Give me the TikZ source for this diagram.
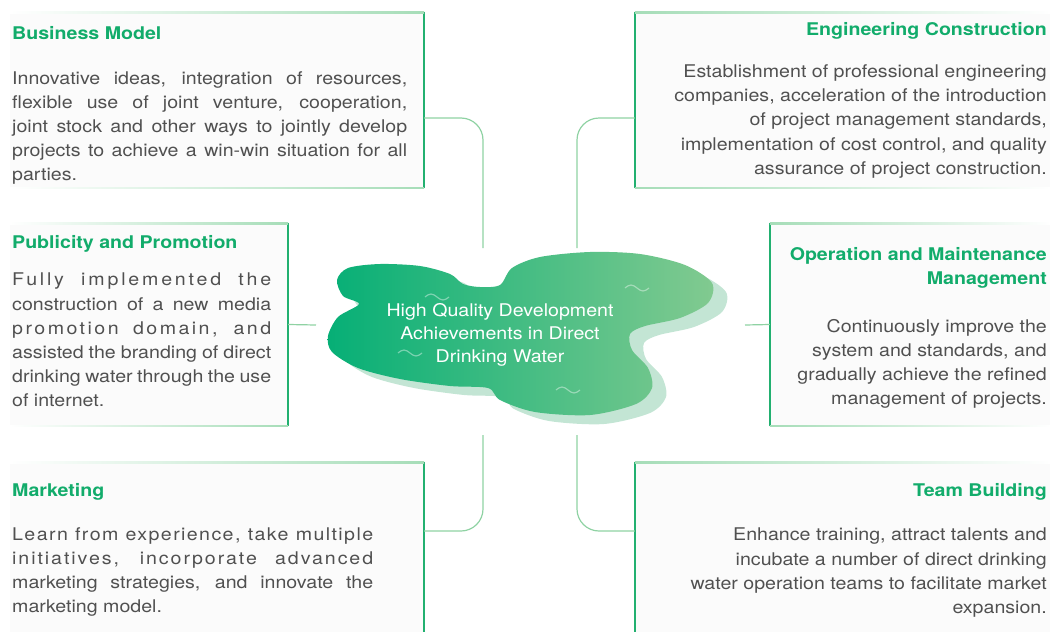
\documentclass[tikz,border=0pt]{standalone}
\usepackage{fontspec}
\setmainfont{TeX Gyre Heros}[FakeStretch=1.12]

\definecolor{rimgreen}{HTML}{22B070}
\definecolor{rimlight}{HTML}{A6DDB8}
\definecolor{linkgreen}{HTML}{8FD2A3}
\definecolor{headgreen}{HTML}{12AC6B}
\definecolor{bodygray}{HTML}{505050}
\definecolor{cardfill}{HTML}{FBFBFB}
\definecolor{hubleft}{HTML}{06AF76}
\definecolor{hubright}{HTML}{82CA90}
\definecolor{hubshadow}{HTML}{C3E5D4}

% letter-spaced run inside a justified line
\newcommand{\spaced}[2]{{\addfontfeature{LetterSpace=#1}#2}}
% outline of the central cloud
\newcommand{\cloud}{plot[smooth cycle] coordinates {(337,280) (348,268) (380,264) (420,266) (450,274) (463,284) (480,287) (500,285) (512,268) (540,257) (590,252) (640,254) (685,265) (712,283) (708,303) (680,318) (645,326) (630,334) (632,350) (648,368) (652,388) (636,404) (590,415) (535,412) (500,400) (488,388) (450,386) (400,379) (358,368) (332,352) (328,336) (338,317) (359,304) (343,296)}}

\begin{document}
\begin{tikzpicture}[x=1pt, y=-1pt]
	\tikzstyle{card}=[fill=cardfill, inner sep=0pt]
	\tikzstyle{rim}=[draw=rimgreen, line width=1.8pt]
	\tikzstyle{head}=[text=headgreen, inner sep=0pt, font=\fontsize{17.5}{24}\selectfont\bfseries]
	\tikzstyle{body}=[text=bodygray, inner sep=0pt, font=\fontsize{17.5}{24.2}\selectfont]
	\tikzstyle{link}=[draw=linkgreen, line width=1.2pt, rounded corners=22pt]
	\tikzstyle{wave}=[draw=white, opacity=.4, line width=1.2pt]
	\tikzstyle{hubtext}=[text=white, align=center, inner sep=0pt, font=\fontsize{17.5}{23}\selectfont]

	\useasboundingbox (0,0) rectangle (1053,632);

	% Cards
	\node at (217, 100) [card, minimum width=414pt, minimum height=176pt] (bm) {};
	\node at (842.5, 100) [card, minimum width=415pt, minimum height=176pt] (ec) {};
	\node at (149, 324.5) [card, minimum width=278pt, minimum height=203pt] (pp) {};
	\node at (910, 324.5) [card, minimum width=280pt, minimum height=203pt] (om) {};
	\node at (217, 547) [card, minimum width=414pt, minimum height=170pt] (mk) {};
	\node at (842.5, 547) [card, minimum width=415pt, minimum height=170pt] (tb) {};

	% Card rims: solid on the hub side, fading lines at top and bottom
	\draw [rim] (bm.north east) -- (bm.south east);
	\draw [rim] (pp.north east) -- (pp.south east);
	\draw [rim] (mk.north east) -- (mk.south east);
	\draw [rim] (ec.north west) -- (ec.south west);
	\draw [rim] (om.north west) -- (om.south west);
	\draw [rim] (tb.north west) -- (tb.south west);
	\shade [left color=white, right color=rimlight] (bm.north west) rectangle ([yshift=-1.2pt]bm.north east);
	\shade [left color=white, right color=rimlight] (bm.south west) rectangle ([yshift=1.2pt]bm.south east);
	\shade [left color=white, right color=rimlight] (pp.north west) rectangle ([yshift=-1.2pt]pp.north east);
	\shade [left color=white, right color=rimlight] (pp.south west) rectangle ([yshift=1.2pt]pp.south east);
	\shade [left color=white, right color=rimlight] (mk.north west) rectangle ([yshift=-1.2pt]mk.north east);
	\shade [left color=rimlight, right color=white] (ec.north west) rectangle ([yshift=-1.2pt]ec.north east);
	\shade [left color=rimlight, right color=white] (ec.south west) rectangle ([yshift=1.2pt]ec.south east);
	\shade [left color=rimlight, right color=white] (om.north west) rectangle ([yshift=-1.2pt]om.north east);
	\shade [left color=rimlight, right color=white] (om.south west) rectangle ([yshift=1.2pt]om.south east);
	\shade [left color=rimlight, right color=white] (tb.north west) rectangle ([yshift=-1.2pt]tb.north east);

	% Hub
	\fill [hubshadow, shift={(14,9)}] \cloud;
	\shade [left color=hubleft, right color=hubright] \cloud;
	\foreach \p in {(637,288), (437,297), (410,353), (568,390)}
		\draw [wave] \p ++(-12,0) sin ++(6,-3) cos ++(6,3) sin ++(6,3) cos ++(6,-3);
	\node at (500, 335) [hubtext] (hub) {High Quality Development\\Achievements in Direct\\Drinking Water};

	\coordinate (hubnw) at (483, 248);
	\coordinate (hubne) at (577, 248);
	\coordinate (hubw) at (316, 325);
	\coordinate (hube) at (745, 325);
	\coordinate (hubsw) at (483, 435);
	\coordinate (hubse) at (577, 435);

	% Links
	\draw [link] ([yshift=-18pt]bm.east) -| (hubnw);
	\draw [link] ([yshift=-18pt]ec.west) -| (hubne);
	\draw [link] (pp.east) -- (hubw);
	\draw [link] (om.west) -- (hube);
	\draw [link] ([yshift=16pt]mk.east) -| (hubsw);
	\draw [link] ([yshift=16pt]tb.west) -| (hubse);

	% Left column
	\node at (12, 39) [head, anchor=base west] (bmhead) {Business Model};
	\node at (12, 71) [body, anchor=north west, text width=395pt, align=justify] (bmbody) {Innovative ideas, integration of resources,\linebreak flexible use of joint venture, cooperation,\linebreak joint stock and other ways to jointly develop\linebreak projects to achieve a win-win situation for all\linebreak parties.};

	\node at (12, 248) [head, anchor=base west] (pphead) {Publicity and Promotion};
	\node at (12, 273) [body, anchor=north west, text width=259pt, align=justify] (ppbody) {\spaced{16}{Fully implemented the}\linebreak construction of a new media\linebreak \spaced{14}{promotion domain, and}\linebreak assisted the branding of direct\linebreak drinking water through the use\linebreak of internet.};

	\node at (12, 496) [head, anchor=base west] (mkhead) {Marketing};
	\node at (12, 527) [body, anchor=north west, text width=361pt, align=justify] (mkbody) {\spaced{8}{Learn from experience, take multiple}\linebreak \spaced{11}{initiatives, incorporate advanced}\linebreak marketing strategies, and innovate the\linebreak marketing model.};

	% Right column
	\node at (1047, 35) [head, anchor=base east] (echead) {Engineering Construction};
	\node at (1047, 64.5) [body, anchor=north east, align=right] (ecbody) {Establishment of professional engineering\\companies, acceleration of the introduction\\of project management standards,\\implementation of cost control, and quality\\assurance of project construction.};

	\node at (1047, 247) [head, anchor=north east, align=right] (omhead) {Operation and Maintenance\\Management};
	\node at (1047, 319) [body, anchor=north east, align=right] (ombody) {Continuously improve the\\system and standards, and\\gradually achieve the refined\\management of projects.};

	\node at (1047, 496) [head, anchor=base east] (tbhead) {Team Building};
	\node at (1047, 528) [body, anchor=north east, align=right] (tbbody) {Enhance training, attract talents and\\incubate a number of direct drinking\\water operation teams to facilitate market\\expansion.};
\end{tikzpicture}
\end{document}
